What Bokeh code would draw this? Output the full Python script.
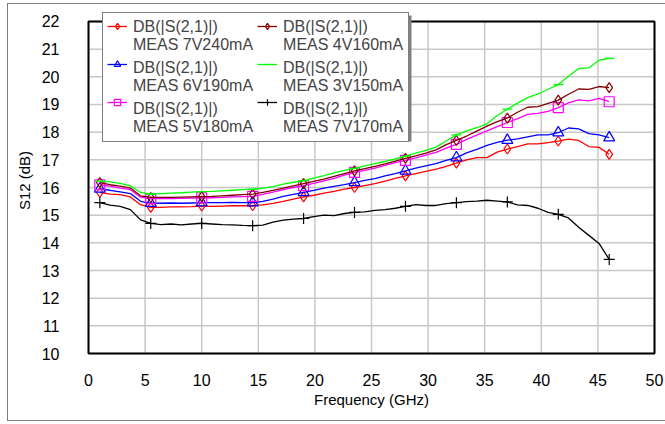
from bokeh.plotting import figure
from bokeh.models import Legend, LegendItem, BoxAnnotation, FixedTicker, Range1d
from bokeh.embed import file_html
from bokeh.resources import INLINE

# ---- data ----
freq_ghz = [1.0, 1.9, 2.8, 3.7, 4.6, 5.5, 6.4, 7.3, 8.2, 9.1,
            10.0, 10.9, 11.8, 12.7, 13.6, 14.5, 15.4, 16.3, 17.2, 18.1,
            19.0, 19.9, 20.8, 21.7, 22.6, 23.5, 24.4, 25.3, 26.2, 27.1,
            28.0, 28.9, 29.8, 30.7, 31.6, 32.5, 33.4, 34.3, 35.2, 36.1,
            37.0, 37.9, 38.8, 39.7, 40.6, 41.5, 42.4, 43.3, 44.2, 45.1, 46.0]

meas_7v240 = [15.82, 15.76, 15.74, 15.66, 15.38, 15.28, 15.28, 15.30, 15.30, 15.31,
              15.33, 15.32, 15.33, 15.34, 15.34, 15.34, 15.37, 15.43, 15.50, 15.58,
              15.66, 15.72, 15.80, 15.86, 15.94, 16.00, 16.07, 16.14, 16.23, 16.33,
              16.42, 16.50, 16.58, 16.66, 16.76, 16.88, 17.00, 17.08, 17.08, 17.28,
              17.39, 17.48, 17.58, 17.58, 17.62, 17.68, 17.75, 17.70, 17.48, 17.45, 17.20]

meas_6v190 = [15.95, 15.90, 15.84, 15.78, 15.50, 15.43, 15.43, 15.44, 15.43, 15.44,
              15.45, 15.45, 15.45, 15.46, 15.45, 15.45, 15.50, 15.58, 15.68, 15.75,
              15.82, 15.90, 15.98, 16.04, 16.10, 16.18, 16.26, 16.32, 16.42, 16.50,
              16.60, 16.70, 16.78, 16.86, 16.98, 17.08, 17.25, 17.38, 17.52, 17.63,
              17.71, 17.76, 17.83, 17.90, 17.90, 17.98, 18.15, 18.12, 17.95, 17.90, 17.80]

meas_5v180 = [16.10, 16.05, 15.98, 15.92, 15.65, 15.60, 15.60, 15.60, 15.61, 15.62,
              15.63, 15.63, 15.64, 15.66, 15.67, 15.68, 15.75, 15.83, 15.92, 16.00,
              16.07, 16.15, 16.24, 16.33, 16.45, 16.55, 16.62, 16.70, 16.80, 16.90,
              16.98, 17.07, 17.17, 17.27, 17.42, 17.56, 17.74, 17.89, 18.05, 18.20,
              18.35, 18.49, 18.64, 18.68, 18.75, 18.89, 19.06, 19.17, 19.13, 19.22, 19.10]

meas_4v160 = [16.18, 16.10, 16.05, 15.98, 15.70, 15.64, 15.64, 15.64, 15.65, 15.66,
              15.67, 15.68, 15.70, 15.72, 15.74, 15.76, 15.82, 15.90, 15.98, 16.06,
              16.14, 16.22, 16.30, 16.40, 16.50, 16.60, 16.68, 16.76, 16.85, 16.95,
              17.05, 17.14, 17.24, 17.36, 17.55, 17.70, 17.86, 18.04, 18.22, 18.38,
              18.51, 18.72, 18.90, 18.92, 19.04, 19.16, 19.37, 19.56, 19.55, 19.65, 19.61]

meas_3v150 = [16.23, 16.20, 16.15, 16.06, 15.82, 15.76, 15.78, 15.80, 15.81, 15.83,
              15.85, 15.86, 15.88, 15.90, 15.92, 15.94, 15.98, 16.03, 16.12, 16.19,
              16.25, 16.34, 16.43, 16.53, 16.62, 16.69, 16.78, 16.86, 16.94, 17.03,
              17.13, 17.24, 17.34, 17.46, 17.68, 17.90, 18.05, 18.16, 18.30, 18.60,
              18.83, 19.05, 19.25, 19.38, 19.55, 19.72, 20.02, 20.30, 20.32, 20.60, 20.67]

meas_7v170 = [15.45, 15.36, 15.32, 15.20, 14.83, 14.70, 14.66, 14.68, 14.65, 14.68,
              14.70, 14.68, 14.66, 14.65, 14.63, 14.62, 14.64, 14.75, 14.82, 14.86,
              14.88, 14.95, 15.00, 14.98, 15.06, 15.10, 15.12, 15.17, 15.20, 15.25,
              15.32, 15.38, 15.35, 15.35, 15.42, 15.45, 15.49, 15.51, 15.54, 15.51,
              15.48, 15.37, 15.35, 15.25, 15.10, 15.03, 14.90, 14.56, 14.27, 13.98, 13.40]

x_ticks = [0, 5, 10, 15, 20, 25, 30, 35, 40, 45, 50]
y_ticks = [10, 11, 12, 13, 14, 15, 16, 17, 18, 19, 20, 21, 22]

legend_line1 = "DB(|S(2,1)|)"
series = [
    ("MEAS 7V240mA", meas_7v240, "#ff0000", "diamond", 10),
    ("MEAS 6V190mA", meas_6v190, "#0000ff", "triangle", 11),
    ("MEAS 5V180mA", meas_5v180, "#ff00ff", "square", 10),
    ("MEAS 4V160mA", meas_4v160, "#800000", "diamond", 10),
    ("MEAS 3V150mA", meas_3v150, "#00ff00", "dash", 10),
    ("MEAS 7V170mA", meas_7v170, "#000000", "cross", 11),
]

FONT = "Liberation Sans"
X0, X1 = x_ticks[0], x_ticks[-1]
Y0, Y1 = y_ticks[0], y_ticks[-1]

# frame is a little larger than the axes box so the legend (which overhangs
# the top of the box) is not clipped
p = figure(width=657, height=416, output_backend="svg", toolbar_location=None,
           x_range=Range1d(X0 - 0.177, X1 + 0.177), y_range=Range1d(Y0 - 0.072, Y1 + 0.578),
           min_border_left=78, min_border_right=9, min_border_top=1, min_border_bottom=65,
           background_fill_color="white", border_fill_color="white")
p.margin = (4, 0, 0, 8)
p.styles = {"outline": "1.5px solid #808080"}
p.outline_line_color = None
p.xgrid.visible = False
p.ygrid.visible = False

for ax in (p.xaxis[0], p.yaxis[0]):
    ax.axis_line_color = None
    ax.major_tick_line_color = None
    ax.minor_tick_line_color = None
    ax.major_tick_out = 0
    ax.major_tick_in = 0
    ax.major_label_text_font = FONT
    ax.major_label_text_font_size = "16px"
    ax.major_label_text_color = "black"
    ax.axis_label_text_font = FONT
    ax.axis_label_text_font_size = "15px"
    ax.axis_label_text_font_style = "normal"
    ax.axis_label_text_color = "black"

p.xaxis.ticker = FixedTicker(ticks=x_ticks)
p.yaxis.ticker = FixedTicker(ticks=y_ticks)
p.xaxis.axis_label = "Frequency (GHz)"
p.yaxis.axis_label = "S12 (dB)"
p.xaxis.major_label_standoff = 18
p.xaxis.axis_label_standoff = 2
p.yaxis.major_label_standoff = 27
p.yaxis.axis_label_standoff = 6

# grid lines limited to the axes box
GRID = "#c8c8c8"
p.segment(x0=x_ticks, x1=x_ticks, y0=[Y0] * len(x_ticks), y1=[Y1] * len(x_ticks),
          line_color=GRID, line_width=1.5)
p.segment(x0=[X0] * len(y_ticks), x1=[X1] * len(y_ticks), y0=y_ticks, y1=y_ticks,
          line_color=GRID, line_width=1.5)

text_items = []
glyph_items = []
for name, vals, color, marker, msize in series:
    ln = p.line(freq_ghz, vals, line_color=color, line_width=1.3)
    sc = p.scatter(freq_ghz[::5], vals[::5], marker=marker, size=msize,
                   line_color=color, line_width=1.2, fill_alpha=0)
    glyph_items.append(LegendItem(label=" ", renderers=[ln, sc]))
    dummy = p.line([], [], line_alpha=0)
    text_items.append(LegendItem(label=legend_line1 + "\n" + name, renderers=[dummy]))

# axes box
p.quad(left=[X0], right=[X1], bottom=[Y0], top=[Y1], fill_alpha=0,
       line_color="black", line_width=2)

# legend shadow (canvas units relative to the figure)
shadow = BoxAnnotation(left=97, right=403, top=11, bottom=137,
                       left_units="canvas", right_units="canvas",
                       top_units="canvas", bottom_units="canvas",
                       fill_color="#808080", fill_alpha=1, line_alpha=0)
p.add_layout(shadow)

common = dict(ncols=2, padding=5, spacing=5, margin=0, label_standoff=5,
              glyph_width=20, glyph_height=16, label_height=33, label_width=120,
              label_text_font=FONT, label_text_font_size="16px",
              label_text_line_height=0.85)

legend_text = Legend(items=text_items, location=(16, 213),
                     border_line_color="black", border_line_width=1,
                     background_fill_color="white", background_fill_alpha=1,
                     **common)
p.add_layout(legend_text)

legend_glyph = Legend(items=glyph_items, location=(16, 232),
                      border_line_alpha=0, background_fill_alpha=0,
                      **common)
p.add_layout(legend_glyph)

open("out.html", "w").write(file_html(p, INLINE))
